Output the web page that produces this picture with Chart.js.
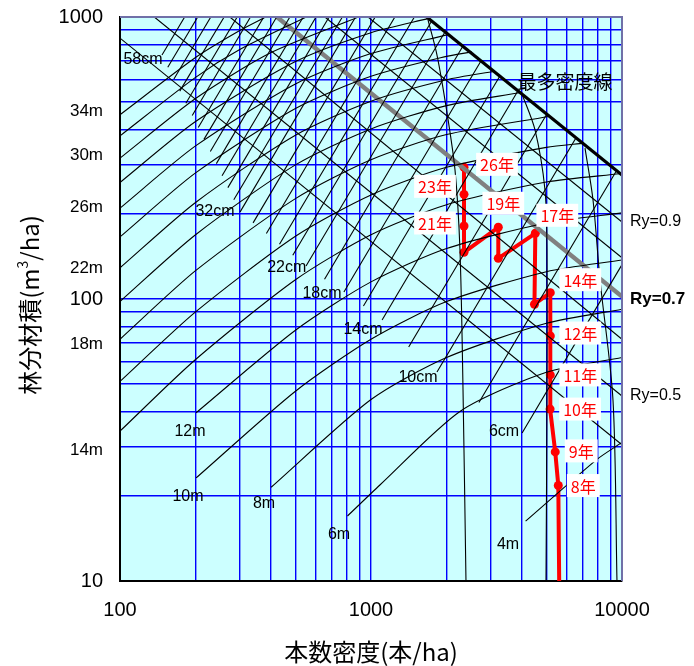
<!DOCTYPE html>
<html lang="ja">
<head>
<meta charset="utf-8">
<title>林分密度管理図</title>
<script src="https://cdn.jsdelivr.net/npm/chart.js@4.4.1/dist/chart.umd.min.js"></script>
<style>
html,body{margin:0;padding:0;background:#fff;}
#box{position:relative;width:694px;height:666px;}
</style>
</head>
<body>
<div id="box"><canvas id="chart" width="694" height="666"></canvas></div>
<script>
// 軸
const densityTicks = [100, 1000, 10000];
const volumeTicks = [10, 100, 1000];
const densityGrid = [100,200,300,400,500,600,700,800,900,1000,2000,3000,4000,5000,6000,7000,8000,9000,10000];
const volumeGrid = [10,20,30,40,50,60,70,80,90,100,200,300,400,500,600,700,800,900,1000];

// 施業経過(本数密度・材積・林齢)
const careDensity = [5620, 5575, 5420, 5170, 5180, 5180, 5180, 4480, 4515, 3215, 3215, 2347, 2347, 2347, 2347];
const careVolume  = [10, 21.8, 28.7, 40.7, 53.8, 73.9, 105.3, 95.8, 171, 139.4, 179.6, 146.4, 181.5, 235, 293];
const careAge     = ['', '8年', '9年', '10年', '11年', '12年', '14年', '', '17年', '', '19年', '', '21年', '23年', '26年'];

// 最多密度線
const maxDensityN = [1667, 10000];
const maxDensityV = [1000, 275];
// 等収量比数線(Ry=0.7 は太線)
const ry07N = [422, 10000];
const ry07V = [1000, 102];
const ryThinRy = [0.9, 0.8, 0.6, 0.5, 0.4];
const ryThinStartN = [973, 655, 274, 137, 100];
const ryThinStartV = [1000, 1000, 1000, 1000, 842];
const ryThinEndV = [187.6, 140, 72, 45.3, 30.4];

// 等平均樹高線
const heightCurves = [
  { h: 34, n: [100, 200, 300, 381], v: [450, 718, 895, 1000] },
  { h: 32, n: [100, 200, 300, 552], v: [379, 611, 767, 1000] },
  { h: 30, n: [100, 200, 400, 892], v: [316, 514, 748, 1000] },
  { h: 28, n: [100, 200, 500, 1000, 1700], v: [259, 426, 695, 880, 989] },
  { h: 26, n: [100, 200, 500, 1000, 2030], v: [210, 349, 579, 742, 866] },
  { h: 24, n: [100, 200, 500, 1000, 2000, 2520], v: [166, 280, 474, 616, 725, 752] },
  { h: 22, n: [100, 200, 500, 1000, 2000, 3100], v: [129, 220, 381, 503, 599, 642] },
  { h: 20, n: [100, 200, 500, 1000, 2000, 3900], v: [98, 169, 299, 401, 485, 539] },
  { h: 18, n: [100, 200, 500, 1000, 2000, 5100], v: [72, 126, 227, 312, 383, 444] },
  { h: 16, n: [100, 200, 500, 1000, 2000, 5000, 7050], v: [51, 90, 167, 234, 293, 345, 357] },
  { h: 14, n: [100, 200, 500, 1000, 2000, 5000, 9800], v: [34, 61, 117, 169, 216, 260, 278] },
  { h: 12, n: [201, 500, 1000, 2000, 5000, 10000], v: [39.5, 77.5, 115, 151, 186, 202] },
  { h: 10, n: [201, 500, 1000, 2000, 5000, 10000], v: [23.2, 47.1, 72, 97.9, 125, 137.5] },
  { h: 8,  n: [400, 1000, 2000, 5000, 10000], v: [21.5, 44, 62, 82, 92] },
  { h: 6,  n: [806, 1085, 2269, 5000, 10000], v: [17, 21.9, 40, 55, 62] },
  { h: 4,  n: [4130, 7950, 10000], v: [16.3, 27, 31] }
];

// 等平均直径線(6〜58cm)
const diameterCm     = [6, 8, 10, 12, 14, 16, 18, 20, 22, 24, 26, 28, 30, 32, 34, 36, 38, 40, 42, 44, 46, 48, 50, 52, 54, 56, 58];
const diameterStartN = [3999, 2692, 1832, 1413, 1107, 933, 780, 653, 551, 488, 432, 383, 339, 301, 284, 269, 255, 242, 229, 216, 205, 194, 183, 173, 164, 155, 147];
const diameterStartV = [33.5, 42.95, 55.1, 67.6, 84.3, 94.4, 105.9, 117.5, 130.9, 142.9, 156.3, 170.6, 186.2, 203.7, 224.9, 248.3, 273.5, 302, 333.4, 368.1, 405.5, 447.7, 494.3, 545.8, 602.6, 663.7, 732.8];
const diameterEndN   = [10000, 9506, 6553, 5012, 3846, 3258, 2742, 2322, 1971, 1745, 1489, 1245, 1039, 868, 769, 681, 604, 537, 475, 421, 374, 331, 293, 260, 230, 204, 181];
const diameterEndV   = [132.4, 285.1, 372.4, 451.9, 546.5, 616, 698, 787, 885, 968, 1000, 1000, 1000, 1000, 1000, 1000, 1000, 1000, 1000, 1000, 1000, 1000, 1000, 1000, 1000, 1000, 1000];

// 自然枯死線
const mortalityCurves = [
  { n: [2390, 2326, 2262, 2161, 2000, 1832, 1687], v: [10, 47.6, 149, 287, 468, 733, 976] },
  { n: [4980, 5025, 5025, 4934, 4503, 3997], v: [10, 47.6, 149, 243.5, 397.5, 533] },
  { n: [9550, 9207, 8175, 7665, 7122], v: [10, 43.8, 116.8, 224.4, 343] }
];

// 線上の注記(本数密度・材積で位置を指定)
const curveNotes = [
  { text: '58cm', n: 123.5, v: 704 },
  { text: '32cm', n: 239, v: 203.5 },
  { text: '22cm', n: 461.6, v: 128.8 },
  { text: '18cm', n: 638, v: 104.2 },
  { text: '14cm', n: 929, v: 77.6 },
  { text: '10cm', n: 1539, v: 52.5 },
  { text: '6cm',  n: 3388, v: 33.8 },
  { text: '12m',  n: 190, v: 33.8 },
  { text: '10m',  n: 186.6, v: 19.9 },
  { text: '8m',   n: 374.7, v: 18.8 },
  { text: '6m',   n: 745.6, v: 14.6 },
  { text: '4m',   n: 3514, v: 13.5 }
];
const sideHeights = [
  { text: '34m', v: 464 }, { text: '30m', v: 324 }, { text: '26m', v: 212 },
  { text: '22m', v: 128.8 }, { text: '18m', v: 69.3 }, { text: '14m', v: 29.1 }
];
const ryNotes = [
  { text: 'Ry=0.9', v: 187.6, bold: false },
  { text: 'Ry=0.7', v: 100, bold: true },
  { text: 'Ry=0.5', v: 45.3, bold: false }
];
// 林齢ラベルのずらし量(点からの相対位置)
const ageOffsets = {
  '8年': [25, 0], '9年': [26, -1], '10年': [30, 0], '11年': [30, 0], '12年': [30, -3],
  '14年': [30, -13], '17年': [22, -18], '19年': [5, -24], '21年': [-29, -3],
  '23年': [-29, -8], '26年': [33, -3]
};

const toPoints = (n, v) => n.map((x, i) => ({ x, y: v[i] }));
const thin = (pts, extra) => Object.assign({
  data: pts, showLine: true, borderColor: '#000', borderWidth: 1.1,
  pointRadius: 0, tension: 0, fill: false
}, extra || {});

const datasets = [];
heightCurves.forEach(c => datasets.push(thin(toPoints(c.n, c.v), { tension: 0.25 })));
diameterCm.forEach((d, i) => datasets.push(thin([
  { x: diameterStartN[i], y: diameterStartV[i] },
  { x: diameterEndN[i], y: diameterEndV[i] }
])));
mortalityCurves.forEach(c => datasets.push(thin(toPoints(c.n, c.v), { tension: 0.3 })));
ryThinRy.forEach((r, i) => datasets.push(thin([
  { x: ryThinStartN[i], y: ryThinStartV[i] },
  { x: 10000, y: ryThinEndV[i] }
])));
datasets.push(thin(toPoints(ry07N, ry07V), { borderColor: '#808080', borderWidth: 4.5 }));
datasets.push(thin(toPoints(maxDensityN, maxDensityV), { borderWidth: 3.2 }));
datasets.push({
  data: toPoints(careDensity, careVolume), showLine: true, borderColor: '#ff0000',
  borderWidth: 4, backgroundColor: '#ff0000', pointBorderWidth: 0,
  pointRadius: careAge.map((a, i) => i === 0 ? 0 : 4.5), tension: 0,
  borderJoinStyle: 'round', borderCapStyle: 'round'
});

const JP = '"Noto Sans CJK JP", "Noto Sans", sans-serif';
const LAT = '"Liberation Sans", Arial, sans-serif';

const decorPlugin = {
  id: 'decor',
  beforeDraw(chart) {
    const { ctx, chartArea: a } = chart;
    ctx.save();
    ctx.fillStyle = '#ffffff';
    ctx.fillRect(0, 0, chart.width, chart.height);
    ctx.fillStyle = '#ccffff';
    ctx.fillRect(a.left, a.top, a.right - a.left, a.bottom - a.top);
    ctx.restore();
  },
  afterDatasetsDraw(chart) {
    const { ctx, scales: { x, y } } = chart;
    ctx.save();
    ctx.textAlign = 'center';
    ctx.textBaseline = 'middle';
    // 等直径・等樹高の注記
    ctx.fillStyle = '#000';
    ctx.font = '16px ' + LAT;
    curveNotes.forEach(t => ctx.fillText(t.text, x.getPixelForValue(t.n), y.getPixelForValue(t.v)));
    // 最多密度線
    ctx.font = '19px ' + JP;
    ctx.fillText('最多密度線', x.getPixelForValue(5929), y.getPixelForValue(588));
    // 林齢
    ctx.font = '16px ' + JP;
    careAge.forEach((a, i) => {
      if (!a) return;
      const off = ageOffsets[a];
      const cx = x.getPixelForValue(careDensity[i]) + off[0];
      const cy = y.getPixelForValue(careVolume[i]) + off[1];
      const w = ctx.measureText(a).width + 8;
      ctx.fillStyle = '#ffffff';
      ctx.fillRect(cx - w / 2, cy - 11.5, w, 23);
      ctx.fillStyle = '#ff0000';
      ctx.fillText(a, cx, cy + 1);
    });
    ctx.restore();
  },
  afterDraw(chart) {
    const { ctx, chartArea: a, scales: { y } } = chart;
    ctx.save();
    // 上・右の枠
    ctx.strokeStyle = '#7070a8';
    ctx.lineWidth = 2;
    ctx.beginPath();
    ctx.moveTo(a.left, a.top);
    ctx.lineTo(a.right, a.top);
    ctx.lineTo(a.right, a.bottom);
    ctx.stroke();
    // 左側の樹高
    ctx.fillStyle = '#000';
    ctx.textAlign = 'right';
    ctx.textBaseline = 'middle';
    ctx.font = '17px ' + LAT;
    sideHeights.forEach(t => ctx.fillText(t.text, 103, y.getPixelForValue(t.v)));
    // 右側の収量比数
    ctx.textAlign = 'left';
    ryNotes.forEach(t => {
      ctx.font = (t.bold ? 'bold 17px ' : '16px ') + LAT;
      ctx.fillText(t.text, 630, y.getPixelForValue(t.v));
    });
    // 軸タイトル
    ctx.textAlign = 'center';
    ctx.font = '24px ' + JP;
    ctx.fillText('本数密度(本/ha)', (a.left + a.right) / 2, 652);
    ctx.translate(30, 305);
    ctx.rotate(-Math.PI / 2);
    const main = '林分材積(m', sup = '3', tail = '/ha)';
    ctx.font = '24px ' + JP;
    const w1 = ctx.measureText(main).width, w3 = ctx.measureText(tail).width;
    ctx.font = '14px ' + JP;
    const w2 = ctx.measureText(sup).width;
    let sx = -(w1 + w2 + w3) / 2;
    ctx.textAlign = 'left';
    ctx.font = '24px ' + JP;
    ctx.fillText(main, sx, 0);
    ctx.font = '14px ' + JP;
    ctx.fillText(sup, sx + w1, -7);
    ctx.font = '24px ' + JP;
    ctx.fillText(tail, sx + w1 + w2, 0);
    ctx.restore();
  }
};

new Chart(document.getElementById('chart'), {
  type: 'scatter',
  data: { datasets },
  options: {
    responsive: false,
    animation: false,
    events: [],
    layout: { padding: { top: 17, right: 72, left: 0, bottom: 0 } },
    plugins: { legend: { display: false }, tooltip: { enabled: false } },
    scales: {
      x: {
        type: 'logarithmic', min: 100, max: 10000,
        afterBuildTicks: s => { s.ticks = densityGrid.map(v => ({ value: v })); },
        afterFit: s => { s.height = 85; s.paddingLeft = 0; s.paddingRight = 0; },
        grid: { color: '#0000ff', lineWidth: 1.4, drawTicks: false },
        border: { color: '#000', width: 2 },
        ticks: {
          autoSkip: false, maxRotation: 0, padding: 17, color: '#000',
          font: { family: 'Liberation Sans', size: 20 },
          callback: v => densityTicks.includes(v) ? String(v) : ''
        }
      },
      y: {
        type: 'logarithmic', min: 10, max: 1000,
        afterBuildTicks: s => { s.ticks = volumeGrid.map(v => ({ value: v })); },
        afterFit: s => { s.width = 120; s.paddingTop = 0; s.paddingBottom = 0; },
        grid: { color: '#0000ff', lineWidth: 1.4, drawTicks: false },
        border: { color: '#000', width: 2 },
        ticks: {
          autoSkip: false, padding: 17, color: '#000',
          font: { family: 'Liberation Sans', size: 20 },
          callback: v => volumeTicks.includes(v) ? String(v) : ''
        }
      }
    }
  },
  plugins: [decorPlugin]
});
</script>
</body>
</html>
